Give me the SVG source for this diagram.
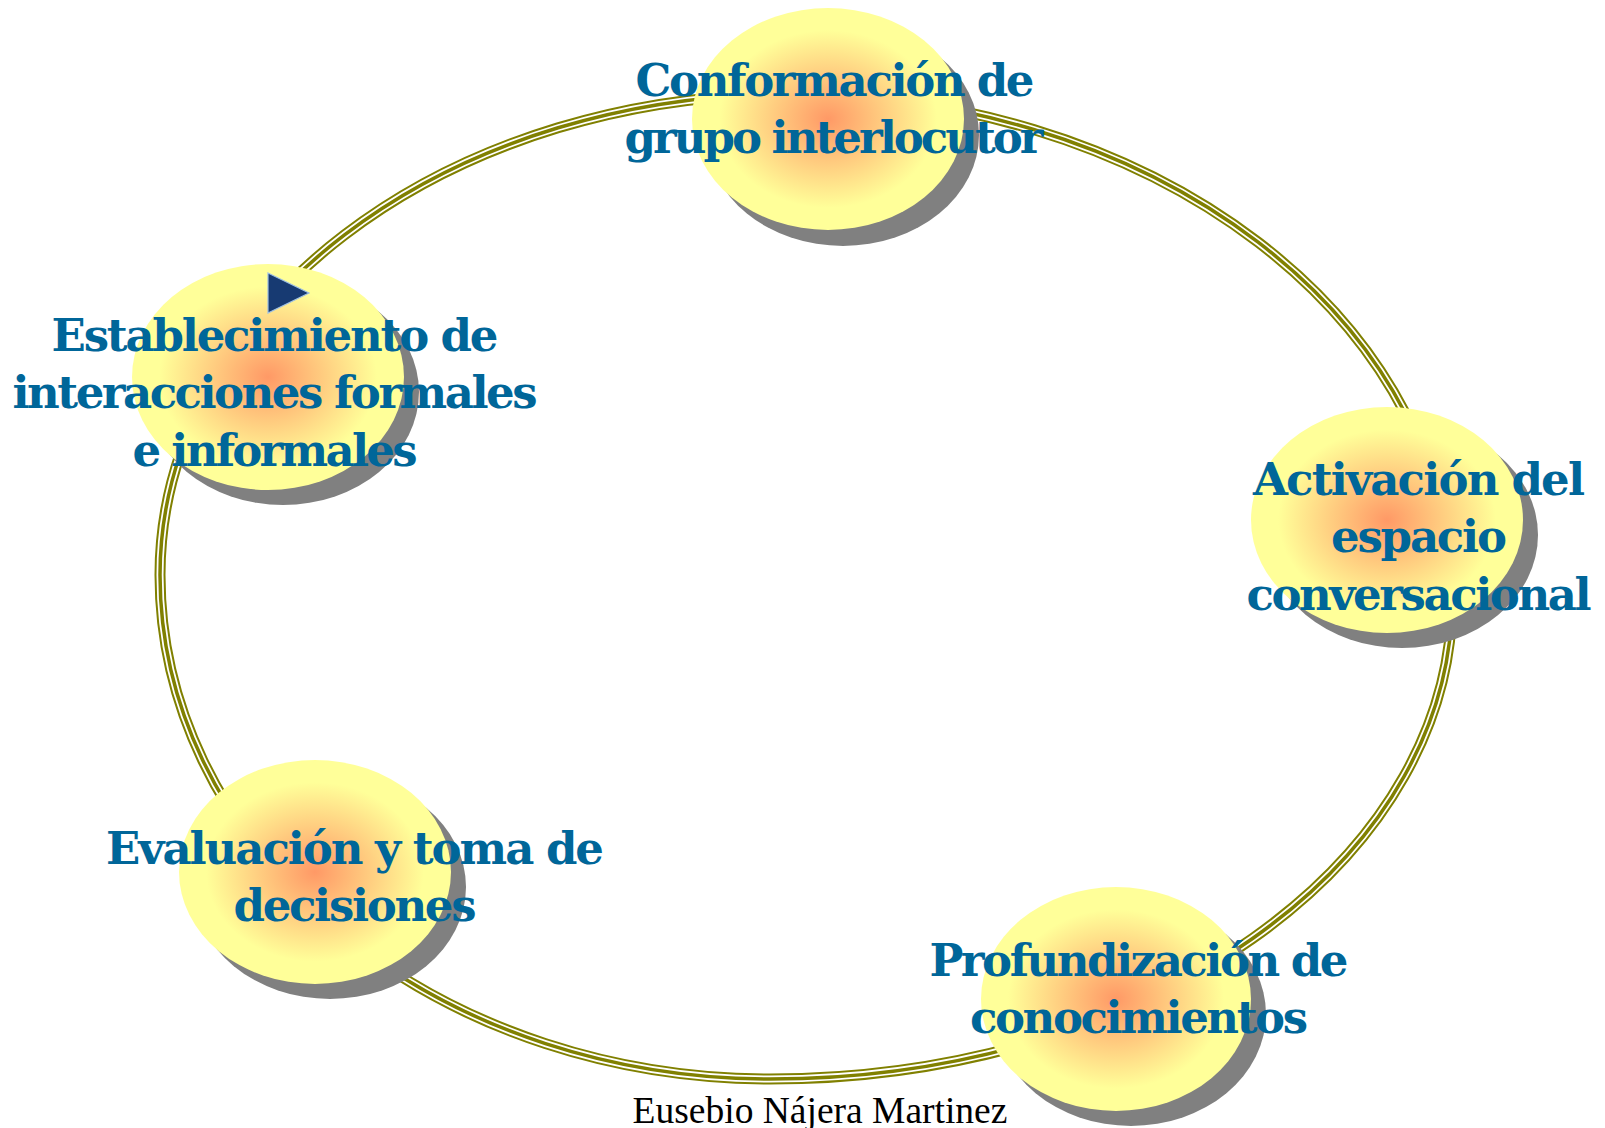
<svg xmlns="http://www.w3.org/2000/svg" width="1605" height="1128" viewBox="0 0 1605 1128">
  <defs>
    <radialGradient id="glow" cx="50%" cy="50%" r="50%">
      <stop offset="0" stop-color="#FF9966"/>
      <stop offset="0.8" stop-color="#FFFF99"/>
      <stop offset="1" stop-color="#FFFF99"/>
    </radialGradient>
    <style>
      .shadow { fill: #808080; }
      .ball { fill: url(#glow); }
      .label { font-family: "DejaVu Serif", "Liberation Serif", serif; font-weight: bold; font-size: 45px; fill: #006699; text-anchor: middle; }
      .ring-outer { fill: none; stroke: #808000; stroke-width: 11; }
      .ring-gap { fill: none; stroke: #FFFFFF; stroke-width: 7; }
      .ring-core { fill: none; stroke: #808000; stroke-width: 3.5; }
      .footer { font-family: "Liberation Serif", "Times New Roman", serif; font-size: 37.5px; fill: #000000; text-anchor: middle; }
    </style>
    <path id="ringPath" d="M 790 94 A 662 506 0 0 1 1452 600 A 682 479 0 0 1 770 1079 A 610 504 0 0 1 160 575 A 630 481 0 0 1 790 94 Z"/>
  </defs>

  <rect width="1605" height="1128" fill="#FFFFFF"/>

  <g id="connectors">
    <use href="#ringPath" class="ring-outer"/>
    <use href="#ringPath" class="ring-gap"/>
    <use href="#ringPath" class="ring-core"/>
  </g>

  <g id="node-conformacion">
    <ellipse class="shadow" cx="843" cy="135" rx="136" ry="111"/>
    <ellipse class="ball" cx="828" cy="119" rx="136" ry="111"/>
    <text class="label" x="835" y="96" textLength="399">Conformación de</text>
    <text class="label" x="834" y="153" textLength="419">grupo interlocutor</text>
  </g>

  <g id="node-establecimiento">
    <ellipse class="shadow" cx="283" cy="392" rx="136" ry="113"/>
    <ellipse class="ball" cx="268" cy="377" rx="136" ry="113"/>
    <text class="label" x="275" y="351" textLength="447">Establecimiento de</text>
    <text class="label" x="275" y="408" textLength="525">interacciones formales</text>
    <text class="label" x="275" y="466" textLength="285">e informales</text>
  </g>

  <g id="node-activacion">
    <ellipse class="shadow" cx="1402" cy="535" rx="136" ry="113"/>
    <ellipse class="ball" cx="1387" cy="520" rx="136" ry="113"/>
    <text class="label" x="1419" y="495" textLength="332">Activación del</text>
    <text class="label" x="1419" y="552" textLength="176">espacio</text>
    <text class="label" x="1419" y="610" textLength="345">conversacional</text>
  </g>

  <g id="node-evaluacion">
    <ellipse class="shadow" cx="330" cy="887" rx="136" ry="112"/>
    <ellipse class="ball" cx="315" cy="872" rx="136" ry="112"/>
    <text class="label" x="355" y="864" textLength="498">Evaluación y toma de</text>
    <text class="label" x="355" y="921" textLength="243">decisiones</text>
  </g>

  <g id="node-profundizacion">
    <ellipse class="shadow" cx="1131" cy="1014" rx="135" ry="112"/>
    <ellipse class="ball" cx="1116" cy="999" rx="135" ry="112"/>
    <text class="label" x="1139" y="976" textLength="419">Profundización de</text>
    <text class="label" x="1139" y="1033" textLength="338">conocimientos</text>
  </g>

  <g id="arrowhead">
    <polygon points="268,273 309,293 268,313" fill="#173A72" stroke="#9DBFE3" stroke-width="1.2"/>
  </g>

  <text class="footer" x="820" y="1123">Eusebio Nájera Martinez</text>
</svg>
